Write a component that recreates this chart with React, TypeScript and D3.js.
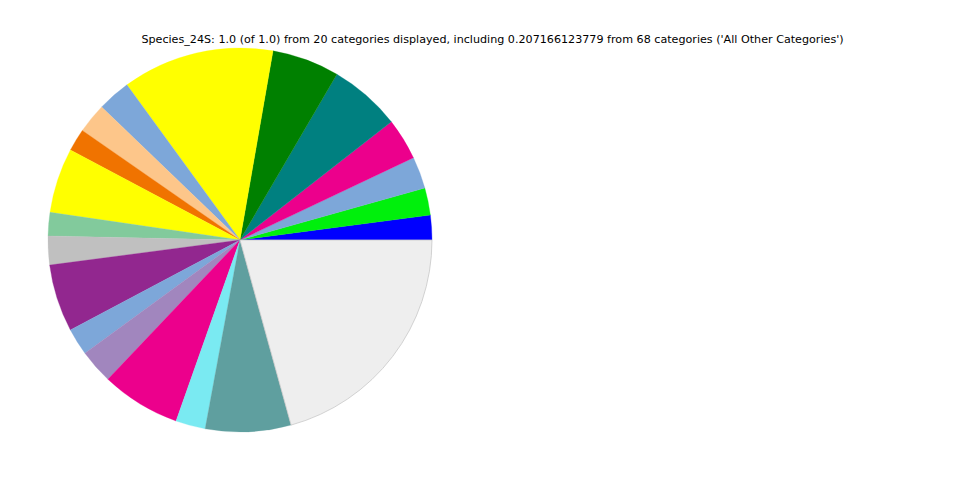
import React from "react";
import * as d3 from "d3";

const categories = [
  "Cat 1", "Cat 2", "Cat 3", "Cat 4", "Cat 5", "Cat 6", "Cat 7", "Cat 8", "Cat 9", "Cat 10",
  "Cat 11", "Cat 12", "Cat 13", "Cat 14", "Cat 15", "Cat 16", "Cat 17", "Cat 18", "Cat 19",
  "All Other Categories",
];
const values = [
  0.0208, 0.0228, 0.0269, 0.035, 0.0603, 0.0567, 0.1278, 0.0278, 0.0253, 0.0189,
  0.0547, 0.0197, 0.0242, 0.0567, 0.0228, 0.0289, 0.0667, 0.025, 0.0719, 0.207166123779,
];
const colors = [
  "#0000ff", "#00f00c", "#7da7d9", "#ec008c", "#008080", "#008000", "#ffff00", "#7da7d9",
  "#fdc68a", "#f07300", "#ffff00", "#82ca9c", "#c0c0c0", "#92278f", "#7da7d9", "#a186be",
  "#ec008c", "#7aeaf2", "#5f9f9f", "#eeeeee",
];
const title =
  "Species_24S: 1.0 (of 1.0) from 20 categories displayed, including 0.207166123779 from 68 categories ('All Other Categories')";

export default function App() {
  const W = 960, H = 480;
  const cx = 240, cy = 240, r = 192;
  const total = d3.sum(values);
  // matplotlib style: start at 3 o'clock, counterclockwise
  const angle = d3.scaleLinear().domain([0, total]).range([Math.PI / 2, Math.PI / 2 - 2 * Math.PI]);
  const arc = d3.arc<any>().innerRadius(0).outerRadius(r);
  let cum = 0;
  const slices = values.map((v, i) => {
    const a0 = angle(cum);
    cum += v;
    const a1 = angle(cum);
    return { i, startAngle: a1, endAngle: a0, v };
  });
  return (
    <svg width={W} height={H} style={{ position: "absolute", left: 0, top: 0, background: "#fff" }}>
      <g transform={`translate(${cx},${cy})`}>
        {slices.map((s) => (
          <path
            key={s.i}
            d={arc(s) as string}
            fill={colors[s.i]}
            stroke={s.i === values.length - 1 ? "#c8c8c8" : colors[s.i]}
            strokeWidth={s.i === values.length - 1 ? 0.8 : 0.3}
          >
            <title>{categories[s.i]}</title>
          </path>
        ))}
      </g>
      <text
        x={492.5}
        y={43}
        textAnchor="middle"
        fontFamily="DejaVu Sans"
        fontSize={11.15}
        fill="#000"
      >
        {title}
      </text>
    </svg>
  );
}
